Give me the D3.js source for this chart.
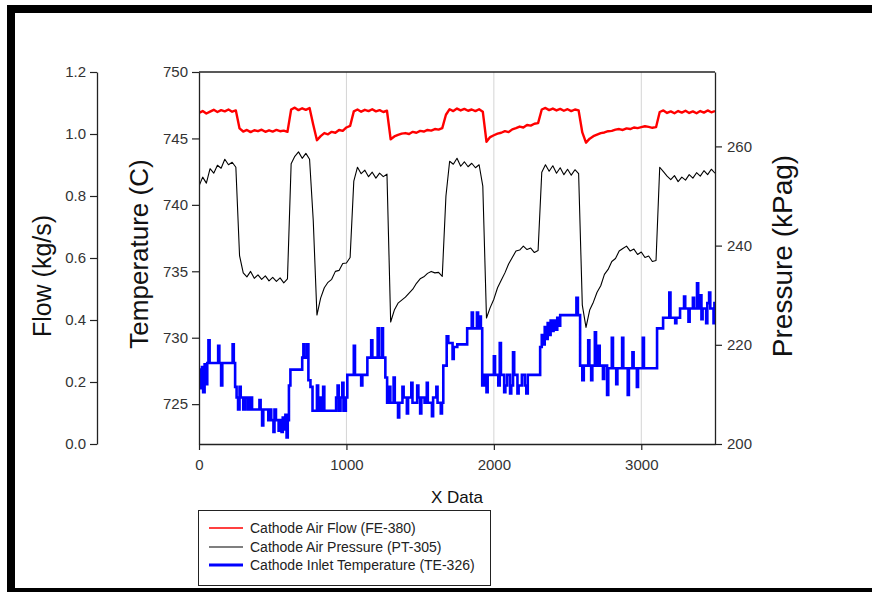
<!DOCTYPE html>
<html><head><meta charset="utf-8">
<script src="https://cdn.jsdelivr.net/npm/d3@7"></script>
<style>
html,body{margin:0;padding:0;background:#fff;overflow:hidden;width:872px;height:592px;}
svg{display:block;}
text{font-family:"Liberation Sans",Arial,sans-serif;}
</style>
</head><body>
<svg id="c" width="872" height="592"></svg>
<script>
// ---- data ----
const timeSec = [
0,25,50,75,100,125,150,175,200,225,
250,275,300,325,350,375,400,425,450,475,
500,525,550,575,600,625,650,675,700,725,
750,775,800,825,850,875,900,925,950,975,
1000,1025,1050,1075,1100,1125,1150,1175,1200,1225,
1250,1275,1300,1325,1350,1375,1400,1425,1450,1475,
1500,1525,1550,1575,1600,1625,1650,1675,1700,1725,
1750,1775,1800,1825,1850,1875,1900,1925,1950,1975,
2000,2025,2050,2075,2100,2125,2150,2175,2200,2225,
2250,2275,2300,2325,2350,2375,2400,2425,2450,2475,
2500,2525,2550,2575,2600,2625,2650,2675,2700,2725,
2750,2775,2800,2825,2850,2875,2900,2925,2950,2975,
3000,3025,3050,3075,3100,3125,3150,3175,3200,3225,
3250,3275,3300,3325,3350,3375,3400,3425,3450,3475,
3500];
const airFlow = [
1.068,1.074,1.066,1.072,1.078,1.071,1.077,1.073,1.079,1.072,
1.076,1.018,1.008,1.013,1.006,1.012,1.009,1.014,1.007,1.012,
1.008,1.013,1.009,1.011,1.007,1.079,1.085,1.077,1.083,1.078,
1.084,1.030,0.980,0.993,1.003,0.999,1.007,1.004,1.013,1.010,
1.021,1.026,1.073,1.079,1.072,1.078,1.074,1.080,1.073,1.077,
1.071,1.075,0.983,0.992,0.997,1.001,1.003,1.000,1.007,1.004,
1.010,1.008,1.013,1.011,1.016,1.014,1.019,1.062,1.080,1.074,
1.082,1.076,1.081,1.075,1.079,1.074,1.080,1.072,0.975,0.990,
0.996,1.001,1.004,1.009,1.006,1.015,1.019,1.024,1.021,1.029,
1.027,1.033,1.035,1.079,1.084,1.077,1.082,1.076,1.081,1.075,
1.080,1.074,1.079,1.076,1.005,0.972,0.985,0.993,0.998,1.003,
1.005,1.009,1.010,1.014,1.016,1.013,1.018,1.016,1.021,1.019,
1.022,1.025,1.023,1.020,1.022,1.071,1.076,1.068,1.073,1.067,
1.074,1.069,1.075,1.068,1.073,1.067,1.074,1.069,1.076,1.070,
1.074];
const airPressure = [
252.0,253.8,252.6,255.5,254.6,256.2,255.6,257.4,256.3,256.8,
255.8,238.0,234.5,233.7,234.8,233.4,234.1,233.2,233.9,232.9,
233.6,232.8,233.5,232.5,233.3,256.5,258.0,258.9,257.6,258.6,
257.4,245.0,226.0,229.4,231.5,232.6,233.2,234.8,235.0,236.4,
236.5,237.6,253.0,255.8,254.5,255.2,253.9,254.8,253.6,254.6,
253.9,254.4,224.6,227.0,228.4,229.0,229.6,230.4,231.2,232.4,
233.3,233.7,234.4,234.8,234.5,234.6,233.8,250.0,257.0,256.4,
257.6,256.0,256.9,255.9,256.6,255.7,256.3,252.0,225.4,227.5,
229.2,231.5,233.0,234.5,236.3,237.6,238.9,239.1,239.9,239.2,
239.5,238.6,239.0,254.8,256.3,255.0,256.1,254.6,255.7,254.3,
255.4,254.2,255.3,254.5,228.0,223.5,227.0,228.6,230.6,231.9,
234.2,235.2,236.8,237.4,238.9,239.4,239.9,238.9,239.3,238.2,
238.7,237.6,237.9,236.8,237.0,255.8,254.9,254.0,253.3,254.1,
252.9,253.8,253.2,254.3,253.6,254.7,254.0,255.1,254.3,255.4,
254.6];
const inletTime = [
0,10,20,28,38,48,56,64,72,130,138,150,158,228,236,
245,255,265,275,283,300,312,330,345,360,410,418,428,436,470,480,490,505,512,522,540,548,560,568,576,586,594,602,
610,620,700,708,716,734,742,756,770,800,808,820,830,842,850,930,940,948,960,972,980,996,
1006,1050,1058,1100,1108,1142,1168,1176,1212,1220,1240,1248,1264,1276,
1290,1298,1320,1328,1350,1358,1380,1388,1410,1418,1440,1448,1480,1488,1500,1508,1530,1545,1552,1580,1588,1610,1618,1640,1648,
1657,1680,1691,1720,1728,1752,1819,1850,1858,1885,1893,1905,1912,
1921,1935,1950,1958,2000,2008,2030,2040,2048,2070,2078,2090,2110,2118,2130,2138,2160,2168,2190,2210,2220,2230,
2314,2325,2335,2345,2355,2365,2375,2385,2395,2405,2418,2430,2440,2450,2560,2570,
2585,2600,2610,2640,2648,2660,2668,2685,2693,2710,2718,2740,2748,2768,2776,2800,2808,2830,2838,2870,2878,2908,2916,2940,2948,2970,2978,3010,3018,
3107,3148,3190,3198,3230,3238,3263,3290,3298,3320,3328,3350,3358,3378,3386,3400,3408,3416,3440,3448,3460,3468,3490,3496,3500];
const inletTemp = [
727.6,726.2,727.8,725.9,728.0,726.5,728.1,729.8,728.1,729.4,728.1,726.4,728.1,729.5,728.1,
726.3,725.5,724.6,726.3,725.5,724.6,725.5,724.6,725.5,724.6,725.3,724.6,723.4,724.6,723.8,724.6,723.8,722.9,724.6,723.8,723.0,723.8,722.9,724.0,723.1,724.2,722.5,723.8,
726.4,727.6,728.5,729.5,728.5,729.5,726.8,726.3,724.5,726.4,724.5,725.5,724.5,726.3,724.5,725.5,726.4,724.5,725.5,726.6,724.5,725.5,
727.2,729.4,727.2,726.4,727.2,728.5,729.8,728.5,730.7,728.5,730.7,728.5,727.0,725.1,
726.3,725.1,727.0,725.1,724.0,725.1,726.3,725.5,724.3,725.5,726.6,725.1,726.4,725.5,724.3,725.5,725.1,726.6,725.1,724.1,725.5,726.3,725.1,724.3,725.1,
727.9,730.1,729.6,728.4,729.3,729.5,730.7,731.9,730.7,731.9,730.7,731.6,730.7,
726.4,727.2,725.9,727.2,728.6,727.2,726.4,729.6,727.2,725.9,726.4,727.2,725.8,726.4,728.9,727.2,725.8,726.4,727.2,726.4,725.8,727.2,
729.3,730.2,729.5,730.8,729.9,731.1,730.2,731.3,730.5,731.3,730.6,731.5,730.9,731.7,733.0,731.7,
727.9,726.8,727.9,729.8,727.9,726.8,727.9,730.4,727.9,729.4,727.9,726.9,727.9,725.7,727.7,730.0,727.7,726.5,727.7,730.0,727.7,725.7,727.7,728.9,727.7,726.3,727.7,730.0,727.7,
730.7,731.5,733.4,731.5,731.1,731.5,732.2,733.1,732.2,731.2,732.2,733.0,732.2,734.1,732.2,733.2,731.4,732.2,731.1,732.6,733.4,732.2,731.1,732.6,732.6];

const flowTicks = [0.0,0.2,0.4,0.6,0.8,1.0,1.2];
const tempTicks = [725,730,735,740,745,750];
const pressTicks = [200,220,240,260];
const xTicks = [0,1000,2000,3000];
const seriesNames = ["Cathode Air Flow (FE-380)","Cathode Air Pressure (PT-305)","Cathode Inlet Temperature (TE-326)"];
const seriesColors = ["#ff0000","#000000","#0000ff"];

// ---- drawing ----
const svg = d3.select("#c");
svg.append("rect").attr("x",0).attr("y",0).attr("width",872).attr("height",592).attr("fill","#fff");
const L = 199, R = 715, T = 72, B = 444;
const x = d3.scaleLinear().domain([0,3500]).range([L,R]);
const yFlow = d3.scaleLinear().domain([0,1.2]).range([B,T]);
const yTemp = d3.scaleLinear().domain([722,750]).range([B,T]);
const yPress = d3.scaleLinear().domain([200,275]).range([B,T]);

// outer black frame (no right side)
svg.append("rect").attr("x",7).attr("y",5).attr("width",865).attr("height",8).attr("fill","#000");
svg.append("rect").attr("x",7).attr("y",5).attr("width",8).attr("height",587).attr("fill","#000");
svg.append("rect").attr("x",7).attr("y",588).attr("width",865).attr("height",4).attr("fill","#000");

// grid
svg.append("g").selectAll("line").data(xTicks.filter(d=>d>0)).join("line")
  .attr("x1",d=>x(d)).attr("x2",d=>x(d)).attr("y1",T).attr("y2",B)
  .attr("stroke","#d4d4d4").attr("stroke-width",1);

svg.append("defs").append("clipPath").attr("id","clip")
  .append("rect").attr("x",L).attr("y",T).attr("width",R-L).attr("height",B-T);

const plot = svg.append("g").attr("clip-path","url(#clip)");
const flowPts = timeSec.map((t,i)=>[t,airFlow[i]]);
const pressPts = timeSec.map((t,i)=>[t,airPressure[i]]);
const tempPts = inletTime.map((t,i)=>[t,inletTemp[i]]);

plot.append("path").datum(flowPts).attr("fill","none").attr("stroke",seriesColors[0])
  .attr("stroke-width",2.4).attr("stroke-linejoin","round")
  .attr("d",d3.line().x(d=>x(d[0])).y(d=>yFlow(d[1])));
plot.append("path").datum(pressPts).attr("fill","none").attr("stroke",seriesColors[1])
  .attr("stroke-width",1.1).attr("stroke-linejoin","round")
  .attr("d",d3.line().x(d=>x(d[0])).y(d=>yPress(d[1])));
plot.append("path").datum(tempPts).attr("fill","none").attr("stroke",seriesColors[2])
  .attr("stroke-width",2.6)
  .attr("d",d3.line().curve(d3.curveStepAfter).x(d=>x(d[0])).y(d=>yTemp(d[1])));

// frame top
svg.append("line").attr("x1",L).attr("x2",R).attr("y1",T).attr("y2",T).attr("stroke","#222").attr("stroke-width",1.3);

function style(g){
  g.selectAll("path.domain").attr("stroke","#222").attr("stroke-width",1.3);
  g.selectAll(".tick line").attr("stroke","#222").attr("stroke-width",1.2);
  g.selectAll(".tick text").attr("fill","#333").style("font-size","15px")
    .style("font-family","'Liberation Sans',Arial,sans-serif");
}
svg.append("g").attr("transform",`translate(97,0)`)
  .call(d3.axisLeft(yFlow).tickValues(flowTicks).tickFormat(d3.format(".1f")).tickSize(7).tickSizeOuter(0).tickPadding(4))
  .call(style);
svg.append("g").attr("transform",`translate(${L},0)`)
  .call(d3.axisLeft(yTemp).tickValues(tempTicks).tickFormat(d3.format("d")).tickSize(7).tickSizeOuter(0).tickPadding(4))
  .call(style);
svg.append("g").attr("transform",`translate(${R},0)`)
  .call(d3.axisRight(yPress).tickValues(pressTicks).tickFormat(d3.format("d")).tickSize(7).tickSizeOuter(0).tickPadding(5))
  .call(style);
svg.append("g").attr("transform",`translate(0,${B})`)
  .call(d3.axisBottom(x).tickValues(xTicks).tickFormat(d3.format("d")).tickSize(6).tickSizeOuter(0).tickPadding(9))
  .call(style);

// titles
function vtitle(txt,cx,cy,fs){
  svg.append("text").attr("transform",`translate(${cx},${cy}) rotate(-90)`)
    .attr("text-anchor","middle").attr("dy","0.35em").attr("fill","#111")
    .style("font-size",fs+"px").text(txt);
}
vtitle("Flow (kg/s)",42,276,25);
vtitle("Temperature (C)",139,254,26);
vtitle("Pressure (kPag)",782,256,28);
svg.append("text").attr("x",457).attr("y",497).attr("dy","0.35em").attr("text-anchor","middle")
  .attr("fill","#111").style("font-size","17px").text("X Data");

// legend
const lg = svg.append("g");
lg.append("rect").attr("x",198.5).attr("y",510.5).attr("width",292).attr("height",75)
  .attr("fill","#fff").attr("stroke","#222").attr("stroke-width",1);
const rowsY = [528,547,565];
const lw = [1.5,1.1,3];
seriesNames.forEach((n,i)=>{
  lg.append("line").attr("x1",209).attr("x2",243).attr("y1",rowsY[i]).attr("y2",rowsY[i])
    .attr("stroke",seriesColors[i]).attr("stroke-width",lw[i]);
  lg.append("text").attr("x",250).attr("y",rowsY[i]).attr("dy","0.35em").attr("fill","#222")
    .style("font-size","14px").text(n);
});
</script>
</body></html>
